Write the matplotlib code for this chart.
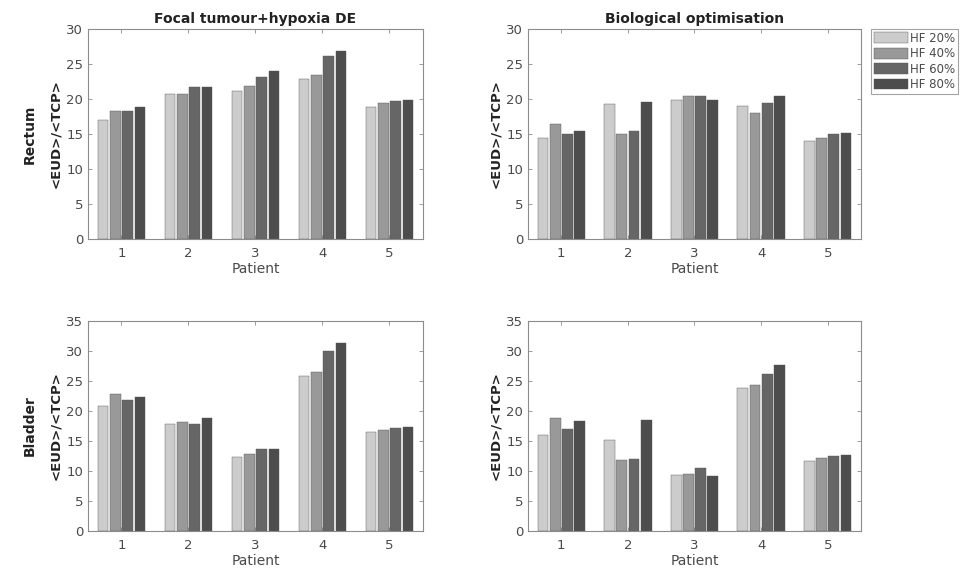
import numpy as np
import matplotlib
matplotlib.use('Agg')
import matplotlib.pyplot as plt

patients = [1, 2, 3, 4, 5]
series_labels = ['HF 20%', 'HF 40%', 'HF 60%', 'HF 80%']
bar_colors = ['#cccccc', '#999999', '#666666', '#4d4d4d']

# rows: HF 20%, 40%, 60%, 80%; columns: patient 1..5
rectum_focal = [
    [17.0, 20.7, 21.1, 22.9, 18.9],
    [18.3, 20.7, 21.9, 23.4, 19.5],
    [18.3, 21.7, 23.2, 26.2, 19.7],
    [18.8, 21.7, 24.0, 26.8, 19.8],
]
rectum_bio = [
    [14.4, 19.3, 19.8, 19.0, 14.0],
    [16.4, 15.0, 20.4, 18.0, 14.5],
    [15.0, 15.5, 20.4, 19.4, 15.0],
    [15.5, 19.6, 19.8, 20.5, 15.1],
]
bladder_focal = [
    [20.8, 17.9, 12.3, 25.8, 16.5],
    [22.9, 18.2, 12.9, 26.5, 16.9],
    [21.8, 17.9, 13.6, 30.0, 17.2],
    [22.3, 18.8, 13.6, 31.3, 17.3],
]
bladder_bio = [
    [16.0, 15.1, 9.4, 23.8, 11.6],
    [18.8, 11.8, 9.5, 24.3, 12.1],
    [17.0, 12.0, 10.5, 26.2, 12.5],
    [18.3, 18.5, 9.1, 27.7, 12.6],
]

col_titles = ['Focal tumour+hypoxia DE', 'Biological optimisation']
row_labels = ['Rectum', 'Bladder']
row_ylims = [30, 35]

axis_col = '#8c8c8c'
text_col = '#4a4a4a'

fig = plt.figure(figsize=(9.7, 5.84), dpi=100)
W, H = 970, 584
boxes = [
    [(88, 29, 423, 239), (528, 29, 861, 239)],
    [(88, 321, 423, 531), (528, 321, 861, 531)],
]
data = [[rectum_focal, rectum_bio], [bladder_focal, bladder_bio]]

x = np.array(patients, dtype=float)
width = 0.16
step = 0.183
for r in range(2):
    for c in range(2):
        l, t, rr, b = boxes[r][c]
        ax = fig.add_axes([l / W, 1 - b / H, (rr - l) / W, (b - t) / H])
        vals = data[r][c]
        for i in range(4):
            ax.bar(x + (i - 1.5) * step, vals[i], width=width, color=bar_colors[i],
                   edgecolor='#555555', linewidth=0.3, label=series_labels[i], zorder=2)
        ax.set_xlim(0.5, 5.5)
        ax.set_ylim(0, row_ylims[r])
        ax.set_xticks(patients)
        ax.set_yticks(np.arange(0, row_ylims[r] + 1, 5))
        ax.tick_params(direction='in', length=3, width=0.6, colors=axis_col,
                       labelcolor=text_col, labelsize=9.5, top=True, right=True)
        ax.tick_params(axis='x', pad=6)
        for sp in ax.spines.values():
            sp.set_color(axis_col)
            sp.set_linewidth(0.8)
        ax.set_xlabel('Patient', fontsize=10, color=text_col, labelpad=1)
        ax.set_ylabel('<EUD>/<TCP>', fontsize=9.5, color='#222222', fontweight='bold', labelpad=3)
        if r == 0:
            ax.set_title(col_titles[c], fontsize=10, fontweight='bold', color='#222222', pad=4)
        if r == 0 and c == 1:
            leg = ax.legend(loc='upper left', bbox_to_anchor=(1.03, 1.0), fontsize=8.5,
                            frameon=True, fancybox=False, borderpad=0.25,
                            handlelength=2.9, handleheight=1.05, handletextpad=0.15,
                            labelspacing=0.2, borderaxespad=0.0)
            leg.get_frame().set_edgecolor(axis_col)
            leg.get_frame().set_linewidth(0.8)
            for txt in leg.get_texts():
                txt.set_color(text_col)
    yc = (boxes[r][0][1] + boxes[r][0][3]) / 2
    fig.text(30 / W, 1 - yc / H, row_labels[r], rotation=90, ha='center', va='center',
             fontsize=10, fontweight='bold', color='#222222')

fig.savefig('out.png', dpi=100, facecolor='white')
